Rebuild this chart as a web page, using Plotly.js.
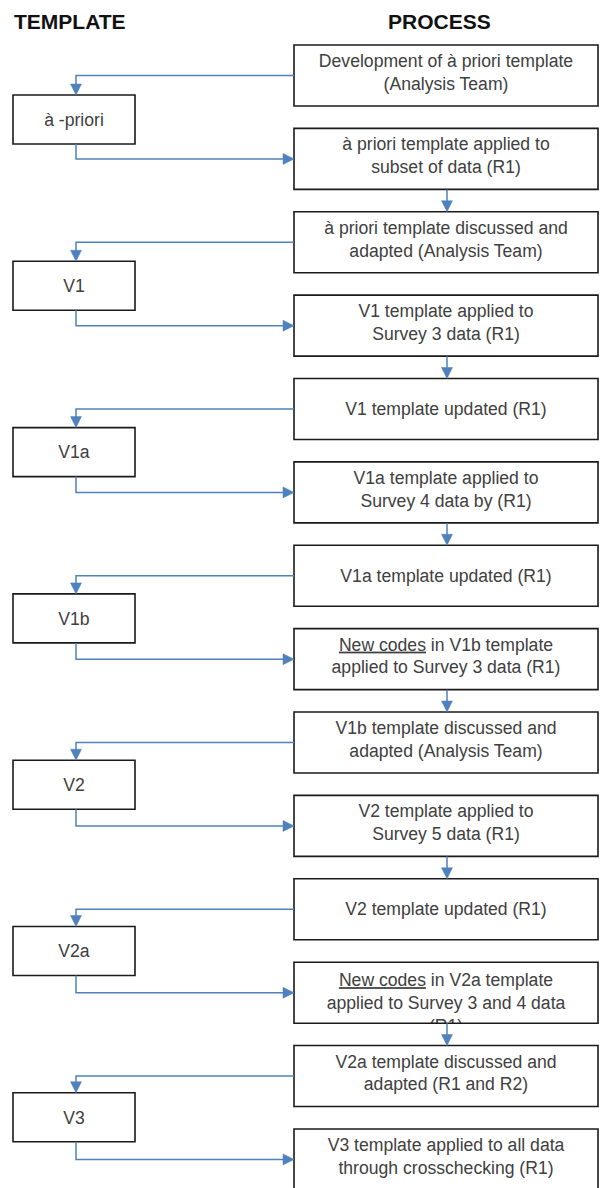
<!DOCTYPE html>
<html>
<head>
<meta charset="utf-8">
<script src="https://cdn.plot.ly/plotly-3.0.1.min.js"></script>
<style>html,body{margin:0;padding:0;background:#fff;}#chart{width:600px;height:1188px;}</style>
</head>
<body>
<div id="chart"></div>
<script>
// ---- content ----
const headers = ['TEMPLATE', 'PROCESS'];
const templateLabels = ['à -priori', 'V1', 'V1a', 'V1b', 'V2', 'V2a', 'V3'];
const processLabels = [
  'Development of à priori template<br>(Analysis Team)',
  'à priori template applied to<br>subset of data (R1)',
  'à priori template discussed and<br>adapted (Analysis Team)',
  'V1 template applied to<br>Survey 3 data (R1)',
  'V1 template updated (R1)',
  'V1a template applied to<br>Survey 4 data by (R1)',
  'V1a template updated (R1)',
  '<u>New codes</u> in V1b template<br>applied to Survey 3 data (R1)',
  'V1b template discussed and<br>adapted (Analysis Team)',
  'V2 template applied to<br>Survey 5 data (R1)',
  'V2 template updated (R1)',
  '<u>New codes</u> in V2a template<br>applied to Survey 3 and 4 data<br>(R1)',
  'V2a template discussed and<br>adapted (R1 and R2)',
  'V3 template applied to all data<br>through crosschecking (R1)'
];

// ---- layout geometry (pixel-like axis units) ----
const W = 600, H = 1188;
const PX0 = 294, PX1 = 598, PTOP0 = 45, PSTEP = 83.38, PH = 61;
const TX0 = 13, TX1 = 135, TTOP0 = 95, TSTEP = 166.3, TH = 49;
const AX = 76, PAX = 447, HEAD = 11, HALF = 5.5;
const FONT = '"Liberation Sans", Arial, sans-serif';
const BLUE = '#4f81bd', BORDER = '#1a1a1a', TXT = '#404040';
const FS = 17.6;

const ptop = i => PTOP0 + PSTEP * i;
const ttop = k => TTOP0 + TSTEP * k;

const shapes = [];
const boxLine = {color: BORDER, width: 1.6};
const arrowLine = {color: BLUE, width: 1.5};

function rect(x0, y0, x1, y1) {
  shapes.push({type: 'rect', xref: 'x', yref: 'y', x0, y0, x1, y1, line: boxLine, fillcolor: 'rgba(0,0,0,0)', layer: 'above'});
}
function path(d, opts) {
  shapes.push(Object.assign({type: 'path', xref: 'x', yref: 'y', path: d, layer: 'above'}, opts));
}
function headDown(x, y) {
  path(`M${x - HALF},${y - HEAD} L${x + HALF},${y - HEAD} L${x},${y} Z`, {fillcolor: BLUE, line: {color: BLUE, width: 0.5}});
}
function headRight(x, y) {
  path(`M${x - HEAD},${y - HALF} L${x - HEAD},${y + HALF} L${x},${y} Z`, {fillcolor: BLUE, line: {color: BLUE, width: 0.5}});
}

// text traces
const tx = [], ty = [], tt = [];
let clipped = null;

processLabels.forEach((lab, i) => {
  const lines = lab.split('<br>');
  const cx = (PX0 + PX1) / 2;
  if (lines.length === 1) {
    tx.push(cx); ty.push(ptop(i) + PH / 2 + 1.5); tt.push(lab);
  } else if (lines.length === 2) {
    tx.push(cx); ty.push(ptop(i) + 29); tt.push(lab);
  } else {
    tx.push(cx); ty.push(ptop(i) + 31); tt.push(lines.slice(0, 2).join('<br>'));
    clipped = {x: cx, y: ptop(i) + 65.5, text: lines.slice(2).join('<br>'), bottom: ptop(i) + PH};
  }
});
templateLabels.forEach((lab, k) => {
  tx.push((TX0 + TX1) / 2); ty.push(ttop(k) + TH / 2 + 2); tt.push(lab);
});

const traces = [{
  type: 'scatter', mode: 'text', x: tx, y: ty, text: tt,
  textposition: 'middle center', cliponaxis: false, hoverinfo: 'skip',
  textfont: {family: FONT, size: FS, color: TXT}, showlegend: false
}];
if (clipped) {
  traces.push({
    type: 'scatter', mode: 'text', x: [clipped.x], y: [clipped.y], text: [clipped.text],
    textposition: 'middle center', cliponaxis: false, hoverinfo: 'skip',
    textfont: {family: FONT, size: FS, color: TXT}, showlegend: false
  });
  // mask the part of the overflowing line below the box
  shapes.push({type: 'rect', xref: 'x', yref: 'y', x0: PAX - 40, x1: PAX + 40, y0: clipped.bottom, y1: clipped.bottom + 20,
    fillcolor: '#ffffff', line: {width: 0}, layer: 'above'});
}

// boxes
processLabels.forEach((_, i) => rect(PX0, ptop(i), PX1, ptop(i) + PH));
templateLabels.forEach((_, k) => rect(TX0, ttop(k), TX1, ttop(k) + TH));

// connectors
templateLabels.forEach((_, k) => {
  const src = 2 * k, dst = 2 * k + 1;
  const y1 = ptop(src) + 30.5;
  path(`M${PX0},${y1} H${AX} V${ttop(k) - HEAD + 1}`, {line: arrowLine});
  headDown(AX, ttop(k));
  if (dst < processLabels.length) {
    const y2 = ptop(dst) + 30.5;
    path(`M${AX},${ttop(k) + TH} V${y2} H${PX0 - HEAD + 1}`, {line: arrowLine});
    headRight(PX0, y2);
  }
});
for (let i = 1; i + 1 < processLabels.length; i += 2) {
  path(`M${PAX},${ptop(i) + PH} V${ptop(i + 1) - HEAD + 1}`, {line: arrowLine});
  headDown(PAX, ptop(i + 1));
}

const annotations = [
  {text: '<b>' + headers[0] + '</b>', x: 12, y: 21, xanchor: 'left'},
  {text: '<b>' + headers[1] + '</b>', x: 439, y: 21, xanchor: 'center'}
].map(a => Object.assign({xref: 'x', yref: 'y', yanchor: 'middle', showarrow: false,
  font: {family: FONT, size: 21, color: '#111111'}}, a));

const layout = {
  width: W, height: H,
  margin: {l: 0, r: 0, t: 0, b: 0, pad: 0},
  paper_bgcolor: '#ffffff', plot_bgcolor: '#ffffff',
  xaxis: {range: [0, W], visible: false, fixedrange: true},
  yaxis: {range: [H, 0], visible: false, fixedrange: true},
  shapes, annotations, showlegend: false
};

Plotly.newPlot('chart', traces, layout, {displayModeBar: false, staticPlot: true});
</script>
</body>
</html>
